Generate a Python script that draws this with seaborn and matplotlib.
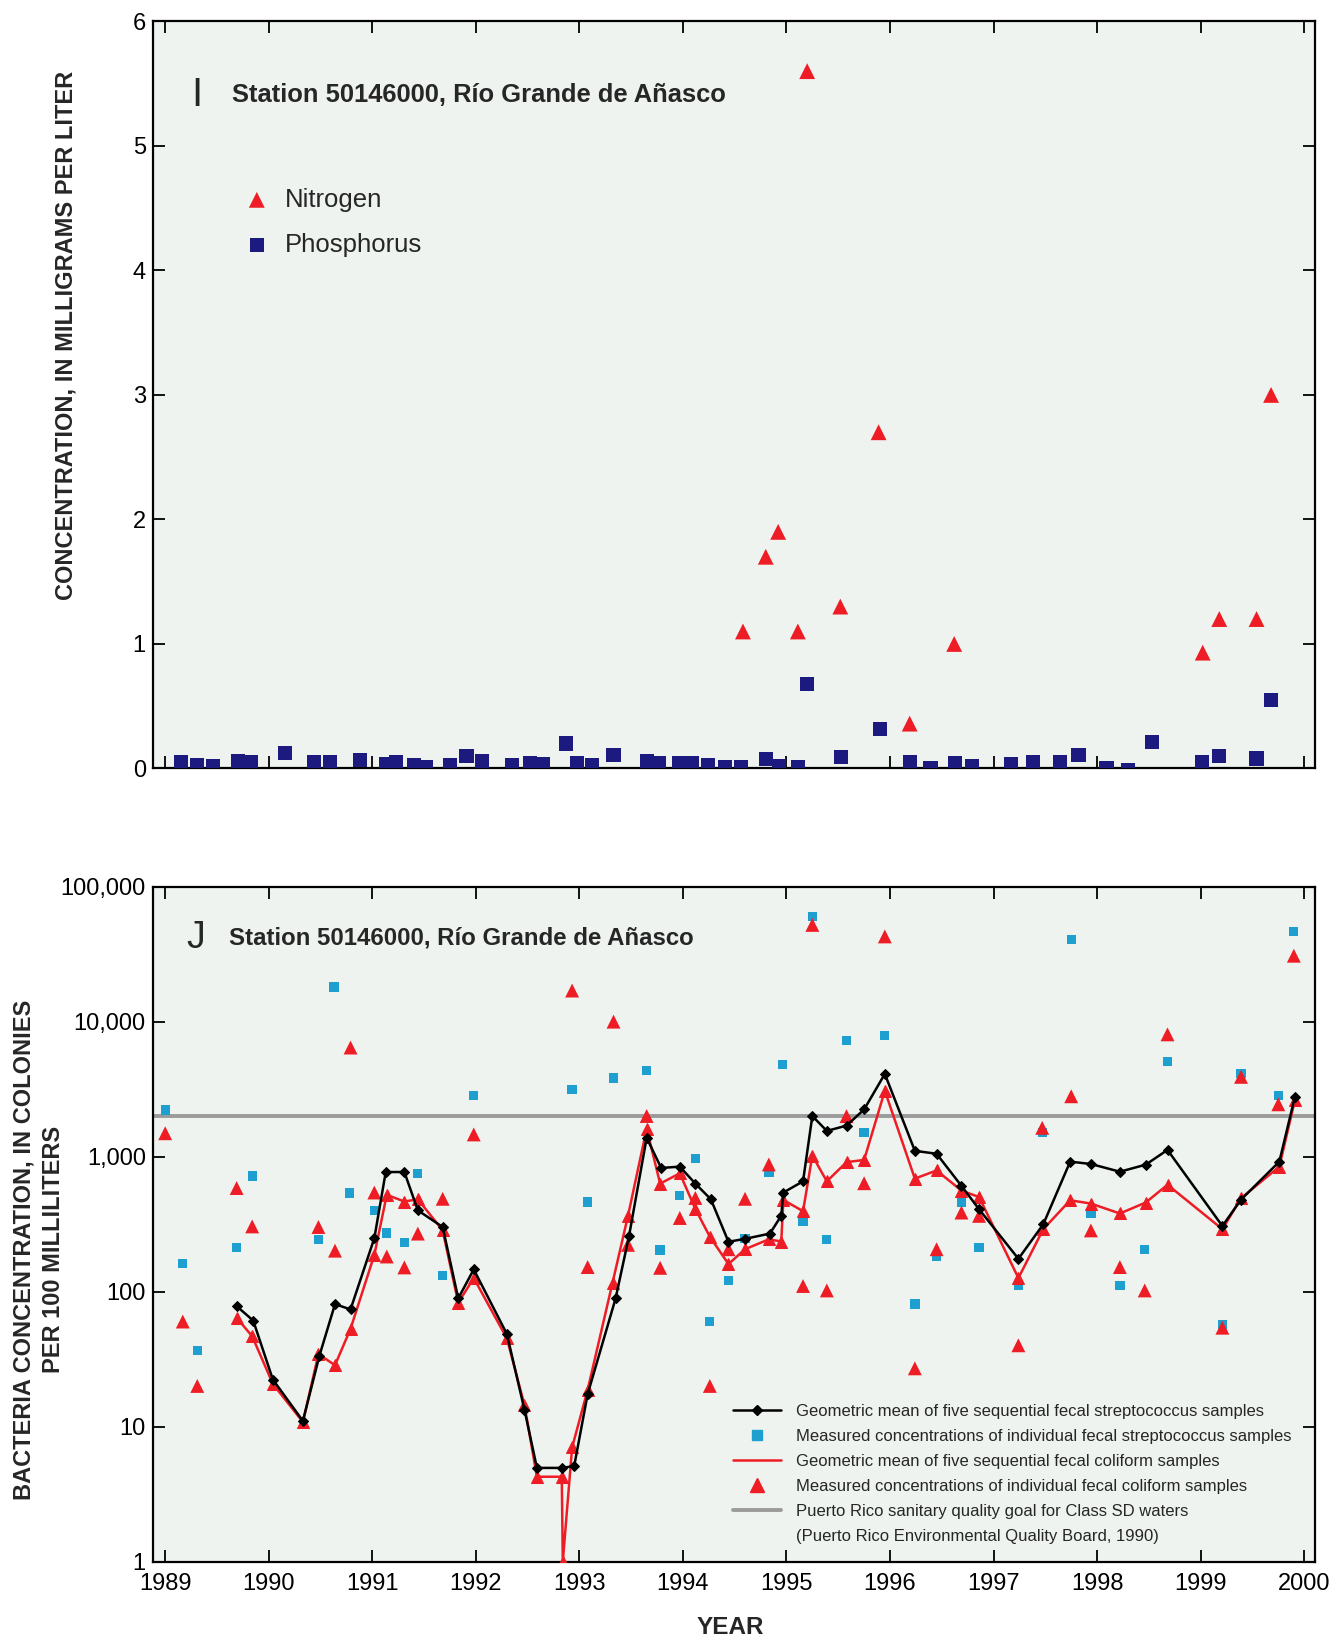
import numpy as np
import pandas as pd
import matplotlib
matplotlib.use("Agg")
import matplotlib.pyplot as plt
from matplotlib.lines import Line2D
import seaborn as sns

# ---- panel I: nutrients (mg/L) ----
phos_year = [1989.15, 1989.31, 1989.46, 1989.70, 1989.83, 1990.16, 1990.44, 1990.59, 1990.88,
             1991.13, 1991.23, 1991.40, 1991.52, 1991.75, 1991.91, 1992.06, 1992.35, 1992.52,
             1992.65, 1992.87, 1992.98, 1993.12, 1993.33, 1993.65, 1993.77, 1993.96, 1994.09,
             1994.24, 1994.41, 1994.56, 1994.80, 1994.93, 1995.11, 1995.20, 1995.53, 1995.90,
             1996.19, 1996.39, 1996.63, 1996.79, 1997.17, 1997.38, 1997.64, 1997.82, 1998.09,
             1998.30, 1998.53, 1999.01, 1999.18, 1999.54, 1999.68]
phos_conc = [0.054, 0.027, 0.019, 0.06, 0.048, 0.126, 0.05, 0.054, 0.065,
             0.035, 0.048, 0.03, 0.013, 0.024, 0.10, 0.06, 0.027, 0.046,
             0.035, 0.20, 0.046, 0.024, 0.105, 0.06, 0.04, 0.04, 0.04,
             0.027, 0.008, 0.013, 0.075, 0.019, 0.013, 0.676, 0.094, 0.316,
             0.054, 0.0, 0.04, 0.021, 0.032, 0.048, 0.054, 0.107, 0.0,
             -0.01, 0.214, 0.048, 0.10, 0.08, 0.55]

nitro_year = [1994.58, 1994.80, 1994.92, 1995.11, 1995.20, 1995.52, 1995.89, 1996.19,
              1996.62, 1999.02, 1999.18, 1999.54, 1999.68]
nitro_conc = [1.1, 1.7, 1.9, 1.1, 5.6, 1.3, 2.7, 0.36, 1.0, 0.93, 1.2, 1.2, 3.0]

# ---- panel J: bacteria (colonies per 100 mL) ----
strep_year = [1989.00, 1989.17, 1989.31, 1989.69, 1989.84, 1990.48, 1990.63, 1990.78, 1991.02,
              1991.14, 1991.31, 1991.44, 1991.68, 1991.98, 1992.93, 1993.08, 1993.33, 1993.65,
              1993.78, 1993.97, 1994.12, 1994.26, 1994.44, 1994.60, 1994.83, 1994.96, 1995.16,
              1995.25, 1995.39, 1995.58, 1995.75, 1995.95, 1996.24, 1996.45, 1996.69, 1996.86,
              1997.24, 1997.47, 1997.75, 1997.94, 1998.22, 1998.46, 1998.68, 1999.21, 1999.39,
              1999.75, 1999.90]
strep_conc = [2210, 161, 36.6, 211, 718, 242, 18100, 538, 400,
              271, 231, 746, 131, 2830, 3150, 462, 3830, 4330,
              203, 514, 967, 60, 121, 246, 770, 4820, 333,
              60300, 242, 7260, 1510, 7900, 81, 181, 457, 211,
              111, 1517, 40500, 381, 111, 205, 5090, 57, 4120,
              2845, 46800]

coli_year = [1989.00, 1989.17, 1989.31, 1989.69, 1989.84, 1990.48, 1990.64, 1990.79, 1991.02,
             1991.14, 1991.31, 1991.44, 1991.68, 1991.98, 1992.93, 1993.08, 1993.33, 1993.47,
             1993.65, 1993.78, 1993.97, 1994.12, 1994.26, 1994.44, 1994.60, 1994.83, 1995.16,
             1995.25, 1995.39, 1995.58, 1995.75, 1995.95, 1996.24, 1996.45, 1996.69, 1996.86,
             1997.24, 1997.47, 1997.75, 1997.94, 1998.22, 1998.46, 1998.68, 1999.21, 1999.39,
             1999.75, 1999.90]
coli_conc = [1490, 60, 20, 585, 304, 301, 201, 6430, 542,
             182, 151, 269, 487, 1460, 17000, 152, 10000, 222,
             2000, 150, 351, 494, 20, 206, 487, 875, 110,
             52100, 102, 1995, 635, 42800, 27, 206, 385, 364,
             40, 1634, 2800, 284, 152, 102, 8050, 54, 3900,
             2440, 30800]

strep_gm_year = [1989.69, 1989.85, 1990.04, 1990.33, 1990.49, 1990.64, 1990.79, 1991.02, 1991.13,
                 1991.31, 1991.44, 1991.68, 1991.83, 1991.98, 1992.30, 1992.47, 1992.59, 1992.83,
                 1992.95, 1993.08, 1993.35, 1993.48, 1993.65, 1993.79, 1993.97, 1994.12, 1994.27,
                 1994.44, 1994.60, 1994.84, 1994.95, 1994.97, 1995.16, 1995.25, 1995.39, 1995.58,
                 1995.75, 1995.95, 1996.24, 1996.45, 1996.69, 1996.86, 1997.24, 1997.48, 1997.74,
                 1997.94, 1998.22, 1998.47, 1998.68, 1999.21, 1999.39, 1999.76, 1999.91]
strep_gm = [78, 61, 22.3, 11, 33.6, 80.7, 73.8, 249, 769,
            769, 400, 301, 89, 146, 48.5, 13.3, 4.94, 4.94,
            5.1, 17.4, 89, 259, 1380, 824, 843, 631, 483,
            234, 246, 269, 365, 542, 656, 2000, 1550, 1698,
            2235, 4100, 1104, 1050, 607, 408, 175, 315, 918,
            882, 773, 872, 1121, 306, 480, 918, 2768]

coli_gm_year = [1989.69, 1989.84, 1990.04, 1990.33, 1990.48, 1990.64, 1990.79, 1991.02, 1991.14,
                1991.31, 1991.44, 1991.68, 1991.83, 1991.98, 1992.30, 1992.47, 1992.59, 1992.83,
                1992.84, 1992.93, 1993.08, 1993.32, 1993.47, 1993.65, 1993.78, 1993.97, 1994.12,
                1994.26, 1994.44, 1994.60, 1994.83, 1994.95, 1994.97, 1995.16, 1995.25, 1995.39,
                1995.58, 1995.75, 1995.95, 1996.24, 1996.45, 1996.69, 1996.86, 1997.24, 1997.48,
                1997.74, 1997.94, 1998.22, 1998.47, 1998.68, 1999.21, 1999.39, 1999.76, 1999.91]
coli_gm = [64, 46.7, 20.7, 10.8, 34.4, 28.5, 53, 187, 521,
           465, 483, 284, 82.6, 126, 45, 14.4, 4.25, 4.25,
           1.0, 7, 18.7, 116, 365, 1610, 631, 752, 410,
           255, 160, 206, 244, 235, 478, 394, 1018, 656,
           910, 945, 3075, 687, 790, 560, 502, 126, 290,
           475, 449, 379, 457, 619, 290, 492, 843, 2612]

sd_goal = 2000
years = list(range(1989, 2001))
conc_ticks = [0, 1, 2, 3, 4, 5, 6]
bact_ticks = [1, 10, 100, 1000, 10000, 100000]
bact_labels = ["1", "10", "100", "1,000", "10,000", "100,000"]

station = "Station 50146000, Río Grande de Añasco"

# ---- style ----
sns.set_style("ticks")
plt.rcParams["font.family"] = ["Liberation Sans", "DejaVu Sans"]
bg = "#eef3ef"
red = "#ee1c24"
navy = "#1c1a7e"
cyan = "#1d9fcf"
grey = "#9b9b9b"

fig = plt.figure(figsize=(13.4, 16.42), dpi=100)
ax1 = fig.add_axes([0.114, 0.532, 0.867, 0.455])
ax2 = fig.add_axes([0.114, 0.049, 0.867, 0.411])

for ax in (ax1, ax2):
    ax.set_facecolor(bg)
    ax.set_xlim(1988.88, 2000.1)
    ax.set_xticks(years)
    for sp in ax.spines.values():
        sp.set_linewidth(1.6)
        sp.set_color("black")
    ax.tick_params(direction="in", length=8.5, width=1.3, top=True, right=True,
                   labelsize=17, colors="black")
    ax.tick_params(axis="x", pad=8)
    ax.tick_params(axis="y", pad=5)

# panel I
p1 = pd.DataFrame({"year": phos_year, "conc": phos_conc})
n1 = pd.DataFrame({"year": nitro_year, "conc": nitro_conc})
sns.scatterplot(data=n1, x="year", y="conc", marker="^", color=red, s=130,
                edgecolor="none", ax=ax1, label="Nitrogen", zorder=3)
sns.scatterplot(data=p1, x="year", y="conc", marker="s", color=navy, s=105,
                edgecolor="none", ax=ax1, label="Phosphorus", zorder=3)
ax1.set_ylim(0, 6)
ax1.set_yticks(conc_ticks)
ax1.tick_params(axis="x", labelbottom=False)
ax1.set_xlabel("")
ax1.set_ylabel("")
ax1.legend(loc="upper left", bbox_to_anchor=(0.0785, 0.7775), frameon=False,
           fontsize=18.5, handlelength=1.0, handletextpad=0.6, labelspacing=0.82,
           borderpad=0, borderaxespad=0, scatterpoints=1)
ax1.text(0.038, 0.902, "I", transform=ax1.transAxes, fontsize=29, va="center",
         ha="center", fontweight="light")
ax1.text(0.0685, 0.902, station, transform=ax1.transAxes, fontsize=18.4,
         fontweight="bold", va="center", ha="left")

# panel J
ax2.set_yscale("log")
ax2.axhline(sd_goal, color=grey, lw=2.8, zorder=1)
sns.lineplot(x=coli_gm_year, y=coli_gm, estimator=None, sort=False, color=red, lw=1.8,
             marker="^", markersize=8, markeredgecolor=red, ax=ax2, legend=False, zorder=3)
sns.lineplot(x=strep_gm_year, y=strep_gm, estimator=None, sort=False, color="black", lw=1.8,
             marker="D", markersize=5.5, markeredgecolor="black", ax=ax2, legend=False, zorder=4)
sns.scatterplot(x=strep_year, y=strep_conc, marker="s", color=cyan, s=45,
                edgecolor="none", ax=ax2, zorder=2)
sns.scatterplot(x=coli_year, y=coli_conc, marker="^", color=red, s=100,
                edgecolor="none", ax=ax2, zorder=2)
ax2.set_ylim(1, 100000)
ax2.set_yticks(bact_ticks)
ax2.set_yticklabels(bact_labels)
ax2.yaxis.set_minor_locator(matplotlib.ticker.NullLocator())
ax2.set_xticklabels([str(y) for y in years])
ax2.set_xlabel("")
ax2.set_ylabel("")
ax2.text(0.037, 0.924, "J", transform=ax2.transAxes, fontsize=27, va="center", ha="center")
ax2.text(0.0655, 0.924, station, transform=ax2.transAxes, fontsize=17.3,
         fontweight="bold", va="center", ha="left")

handles = [
    Line2D([], [], color="black", lw=1.8, marker="D", markersize=5.5),
    Line2D([], [], color=cyan, lw=0, marker="s", markersize=7),
    Line2D([], [], color=red, lw=1.8),
    Line2D([], [], color=red, lw=0, marker="^", markersize=10),
    Line2D([], [], color=grey, lw=2.8),
    Line2D([], [], lw=0),
]
labels = [
    "Geometric mean of five sequential fecal streptococcus samples",
    "Measured concentrations of individual fecal streptococcus samples",
    "Geometric mean of five sequential fecal coliform samples",
    "Measured concentrations of individual fecal coliform samples",
    "Puerto Rico sanitary quality goal for Class SD waters",
    "(Puerto Rico Environmental Quality Board, 1990)",
]
ax2.legend(handles, labels, loc="upper left", bbox_to_anchor=(0.4995, 0.233),
           frameon=False, fontsize=12, handlelength=2.85, handletextpad=0.9,
           labelspacing=0.6, borderpad=0, borderaxespad=0)

# axis titles
fig.text(0.049, 0.796, "CONCENTRATION, IN MILLIGRAMS PER LITER", rotation=90,
         fontsize=17, fontweight="bold", ha="center", va="center")
fig.text(0.029, 0.239, "BACTERIA CONCENTRATION, IN COLONIES\nPER 100 MILLILITERS",
         rotation=90, fontsize=17, fontweight="bold", ha="center", va="center",
         multialignment="center", linespacing=1.33)
fig.text(0.5448, 0.0088, "YEAR", fontsize=17.5, fontweight="bold", ha="center", va="center")

fig.savefig("out.png", dpi=100, facecolor="white")
